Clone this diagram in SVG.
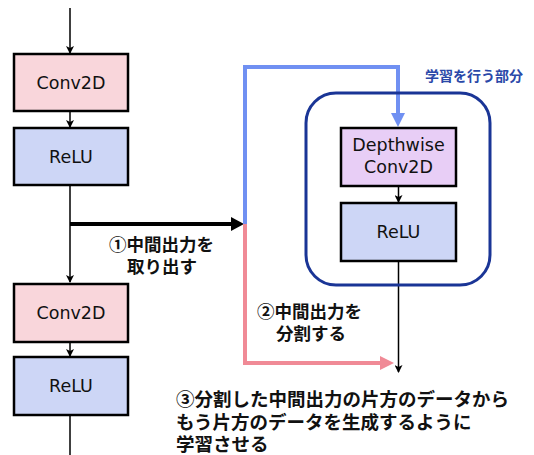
<svg xmlns="http://www.w3.org/2000/svg" width="534" height="455" viewBox="0 0 534 455">
<defs>
<style>
.box{stroke:#000;stroke-width:2.5}
.conv{fill:#F9D6DB}
.relu{fill:#CDD6F6}
.dw{fill:#E8CEF6}
.bt{font-family:"DejaVu Sans","Noto Sans CJK JP",sans-serif;font-size:17.5px;fill:#111;text-anchor:middle}
.lbl{font-family:"Noto Sans CJK JP",sans-serif;font-size:17.5px;font-weight:bold;fill:#111}
.lbl3{font-size:18.5px}
.thin{stroke:#000;stroke-width:1.5;fill:none}
</style>
<marker id="ah" markerWidth="8" markerHeight="8" refX="7" refY="4" orient="auto" markerUnits="userSpaceOnUse"><path d="M0,0 L8,4 L0,8 L2,4 Z" fill="#000"/></marker>
</defs>
<g id="connectors">
<line class="thin" x1="70" y1="8" x2="70" y2="53" marker-end="url(#ah)"/>
<line class="thin" x1="70" y1="112" x2="70" y2="127" marker-end="url(#ah)"/>
<line class="thin" x1="70" y1="186" x2="70" y2="282" marker-end="url(#ah)"/>
<line class="thin" x1="70" y1="343" x2="70" y2="356" marker-end="url(#ah)"/>
<line class="thin" x1="70" y1="416" x2="70" y2="455"/>
<line x1="70" y1="224" x2="233" y2="224" stroke="#000" stroke-width="4"/>
<polygon points="231,217 244,224 231,231" fill="#000"/>
<polyline points="245,225 245,67 398,67 398,114" fill="none" stroke="#7090F2" stroke-width="4"/>
<polygon points="391,113 405,113 398,127" fill="#7090F2"/>
<polyline points="245,224 245,363 381,363" fill="none" stroke="#F08A96" stroke-width="4"/>
<polygon points="380,356 394,363 380,370" fill="#F08A96"/>
<line class="thin" x1="398.5" y1="187" x2="398.5" y2="202" marker-end="url(#ah)"/>
<line class="thin" x1="398.5" y1="262" x2="398.5" y2="372" marker-end="url(#ah)"/>
</g>
<g id="conv1"><rect class="box conv" x="14" y="54" width="114" height="57"/><text class="bt" x="71" y="89">Conv2D</text></g>
<g id="relu1"><rect class="box relu" x="14" y="128" width="114" height="57"/><text class="bt" x="71" y="163">ReLU</text></g>
<g id="conv2"><rect class="box conv" x="14" y="284" width="114" height="58"/><text class="bt" x="71" y="319">Conv2D</text></g>
<g id="relu2"><rect class="box relu" x="14" y="357" width="114" height="58"/><text class="bt" x="71" y="392">ReLU</text></g>
<g id="learn">
<rect x="306" y="93" width="184" height="192" rx="30" fill="none" stroke="#1A3596" stroke-width="3"/>
<text x="425" y="81" font-family="Noto Sans CJK JP,sans-serif" font-size="14" font-weight="bold" fill="#2A48A8">学習を行う部分</text>
</g>
<g id="dw"><rect class="box dw" x="341" y="128" width="115" height="58"/><text class="bt" x="398.5" y="151">Depthwise</text><text class="bt" x="398.5" y="173">Conv2D</text></g>
<g id="relu3"><rect class="box relu" x="341" y="203" width="115" height="58"/><text class="bt" x="398.5" y="238">ReLU</text></g>
<g id="labels">
<text class="lbl" x="109" y="251">①中間出力を</text>
<text class="lbl" x="127" y="273">取り出す</text>
<text class="lbl" x="257" y="318">②中間出力を</text>
<text class="lbl" x="276" y="340">分割する</text>
<text class="lbl lbl3" x="176" y="406">③分割した中間出力の片方のデータから</text>
<text class="lbl lbl3" x="176" y="429">もう片方のデータを生成するように</text>
<text class="lbl lbl3" x="176" y="451">学習させる</text>
</g>
</svg>
